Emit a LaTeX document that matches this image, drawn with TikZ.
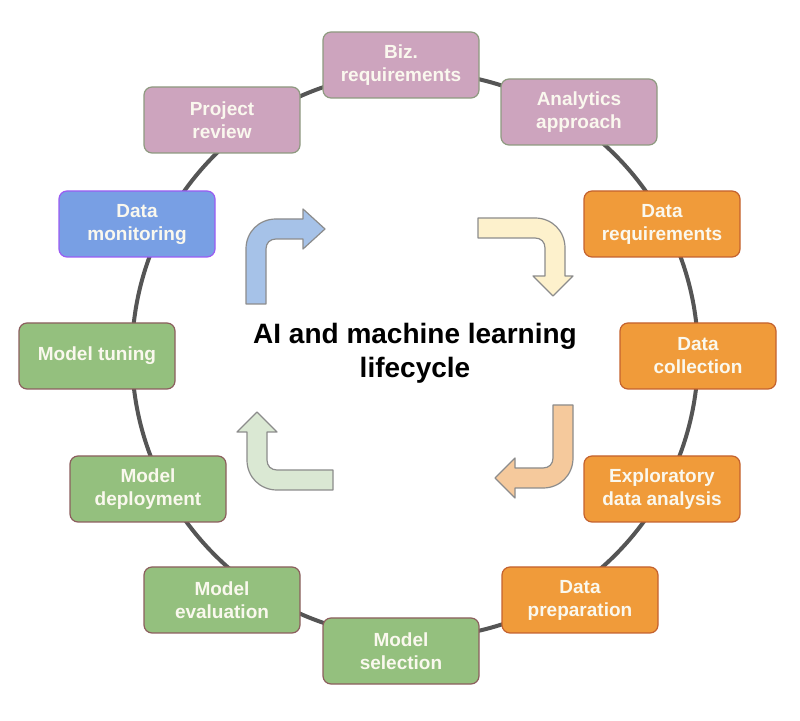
\documentclass[tikz,border=0pt]{standalone}
\usepackage{fontspec}
\setmainfont{Liberation Sans}
\usepackage{tikz}
\definecolor{ringgray}{HTML}{555555}
\definecolor{mauvefill}{HTML}{CDA4BE}
\definecolor{mauveedge}{HTML}{8E9A80}
\definecolor{orangefill}{HTML}{F09B3A}
\definecolor{orangeedge}{HTML}{C4622E}
\definecolor{greenfill}{HTML}{94C07E}
\definecolor{greenedge}{HTML}{8C5E5E}
\definecolor{bluefill}{HTML}{789FE4}
\definecolor{blueedge}{HTML}{9A5CF2}
\definecolor{boxtext}{HTML}{FAF8EE}
\definecolor{turnblue}{HTML}{A6C2E8}
\definecolor{turnyellow}{HTML}{FDF1CC}
\definecolor{turnorange}{HTML}{F5C99C}
\definecolor{turngreen}{HTML}{DAE8D3}
\definecolor{turnedge}{HTML}{8C8C8C}

\begin{document}
\begin{tikzpicture}[
    x=1pt, y=1pt,
    stage/.style={
      draw, rounded corners=8pt, line width=1.2pt,
      minimum width=156pt, minimum height=66pt,
      inner sep=2pt, align=center, text=boxtext,
      font=\fontsize{19}{23}\selectfont\bfseries
    },
    bizstage/.style={stage, fill=mauvefill, draw=mauveedge},
    datastage/.style={stage, fill=orangefill, draw=orangeedge},
    modelstage/.style={stage, fill=greenfill, draw=greenedge},
    watchstage/.style={stage, fill=bluefill, draw=blueedge},
    ring/.style={line width=4pt, ringgray},
    turn/.style={draw=turnedge, line width=1.2pt, line join=round}
  ]

  \useasboundingbox (0,0) rectangle (800,720);

  % the ring behind the stages
  \coordinate (hub) at (415,365);
  \draw[ring] (hub) circle[radius=283];

  \node[font=\fontsize{28}{34}\selectfont\bfseries, align=center] (title)
    at (415,367) {AI and machine learning\\lifecycle};

  % stages, clockwise from the top
  \node[bizstage]   (biz)  at (401,655) {Biz.\\requirements};
  \node[bizstage]   (ana)  at (579,608) {Analytics\\approach};
  \node[datastage]  (dreq) at (662,496) {Data\\requirements};
  \node[datastage]  (dcol) at (698,364) {Data\\collection};
  \node[datastage]  (eda)  at (662,231) {Exploratory\\data analysis};
  \node[datastage]  (prep) at (580,120) {Data\\preparation};
  \node[modelstage] (sel)  at (401,69)  {Model\\selection};
  \node[modelstage] (eval) at (222,120) {Model\\evaluation};
  \node[modelstage] (dep)  at (148,231) {Model\\deployment};
  \node[modelstage] (tune) at (97,364)  {Model tuning};
  \node[watchstage] (mon)  at (137,496) {Data\\monitoring};
  \node[bizstage]   (rev)  at (222,600) {Project\\review};

  % bent arrows round the title
  \draw[turn, fill=turnblue] (246,416) -- (246,471)
    .. controls (246,488) and (259,501) .. (276,501) -- (303,501)
    -- (303,511) -- (325,491) -- (303,471) -- (303,481) -- (276,481)
    .. controls (270,481) and (266,477) .. (266,471) -- (266,416) -- cycle;
  \draw[turn, fill=turnyellow] (478,502) -- (535,502)
    .. controls (552,502) and (565,489) .. (565,472) -- (565,444)
    -- (573,444) -- (553,424) -- (533,444) -- (545,444) -- (545,472)
    .. controls (545,478) and (541,482) .. (535,482) -- (478,482) -- cycle;
  \draw[turn, fill=turnorange] (573,315) -- (573,262)
    .. controls (573,245) and (560,232) .. (543,232) -- (515,232)
    -- (515,222) -- (495,242) -- (515,262) -- (515,252) -- (543,252)
    .. controls (549,252) and (553,256) .. (553,262) -- (553,315) -- cycle;
  \draw[turn, fill=turngreen] (333,230) -- (277,230)
    .. controls (260,230) and (247,243) .. (247,260) -- (247,288)
    -- (237,288) -- (257,308) -- (277,288) -- (267,288) -- (267,260)
    .. controls (267,254) and (271,250) .. (277,250) -- (333,250) -- cycle;

\end{tikzpicture}
\end{document}
